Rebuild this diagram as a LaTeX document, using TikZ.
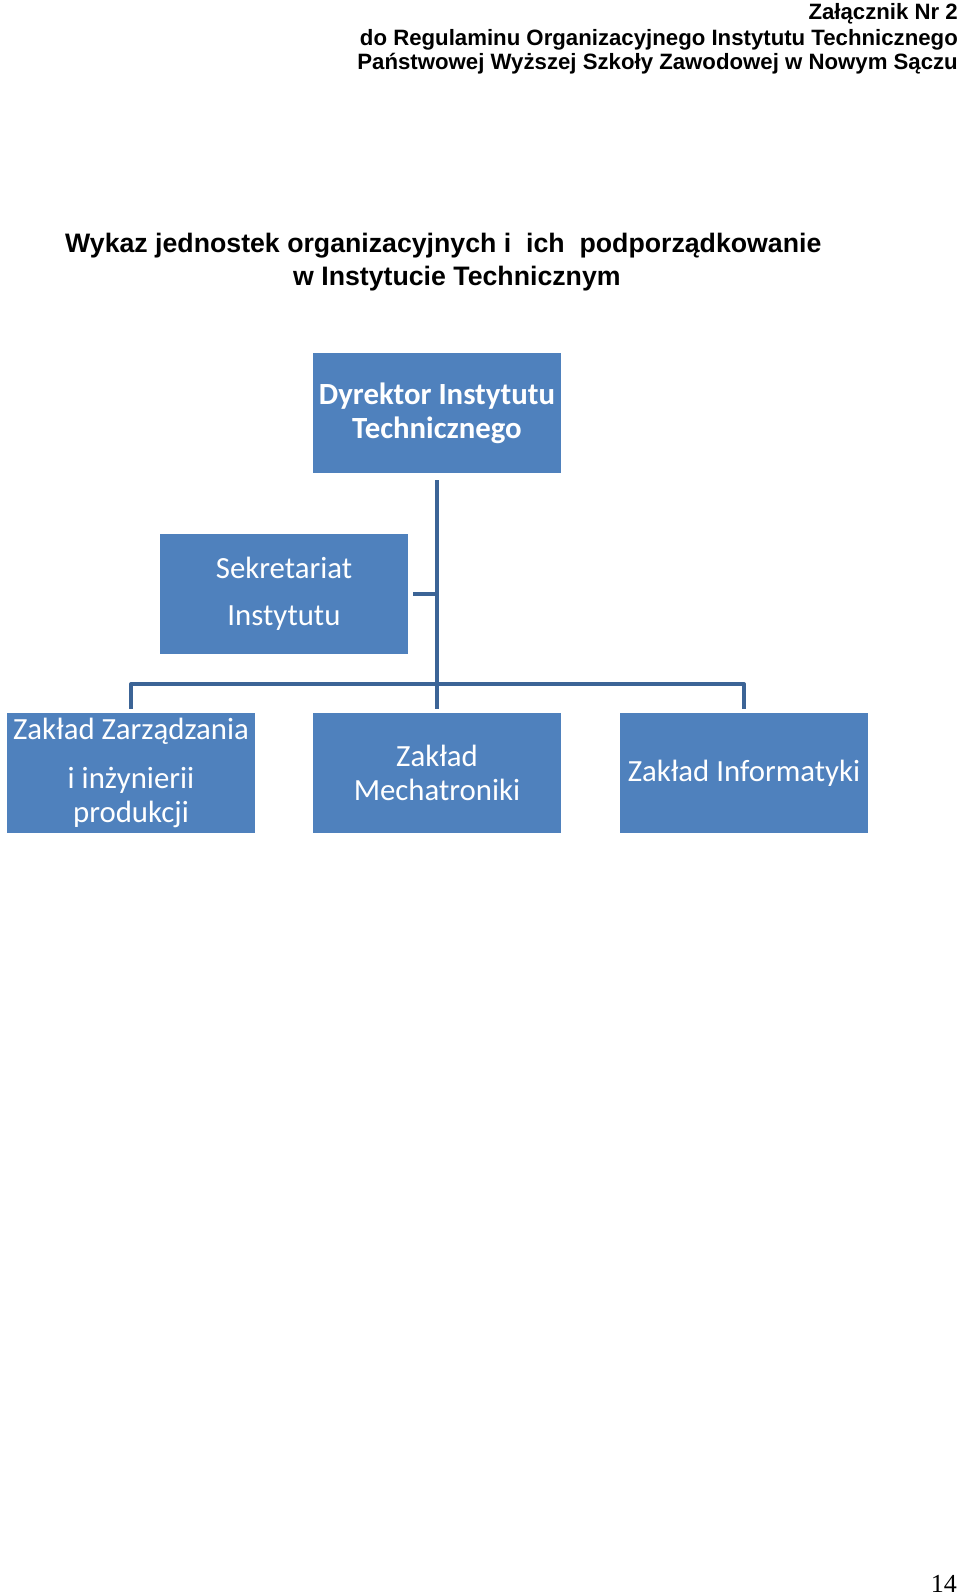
\documentclass[tikz,border=0pt]{standalone}
\usepackage{fontspec}
\setmainfont{Liberation Sans}
\newfontfamily\calfont{Carlito}
\newfontfamily\serfont{Liberation Serif}
\definecolor{boxblue}{RGB}{79,129,189}
\definecolor{connblue}{RGB}{60,100,150}
\begin{document}
\begin{tikzpicture}[x=1pt,y=-1pt,
  box/.style={rectangle, fill=boxblue, minimum width=248pt, minimum height=120pt, inner sep=0pt, text=white, align=center, font=\calfont\fontsize{30.8}{34}\selectfont},
  conn/.style={draw=connblue, line width=4pt, line join=round},
  hdr/.style={anchor=base east, inner sep=0pt, font=\bfseries\fontsize{22.2}{24}\selectfont},
  ttl/.style={anchor=base west, inner sep=0pt, font=\bfseries\fontsize{26.7}{30}\selectfont}]
\useasboundingbox (0,0) rectangle (960,1595);
\fill[white] (0,0) rectangle (960,1595);
% header
\node[hdr] (h1) at (958,20) {Załącznik Nr 2};
\node[hdr] (h2) at (958,46) {do Regulaminu Organizacyjnego Instytutu Technicznego};
\node[hdr] (h3) at (958,70) {Państwowej Wyższej Szkoły Zawodowej w Nowym Sączu};
% title
\node[ttl] (t1) at (65,252) {Wykaz jednostek organizacyjnych i~~ich~~podporządkowanie};
\node[ttl] (t2) at (293,285) {w Instytucie Technicznym};
% boxes
\node[box, font=\calfont\bfseries\fontsize{30.8}{34}\selectfont] (dir) at (437,413) {Dyrektor Instytutu\\Technicznego};
\node[box] (sek) at (284,594) {Sekretariat\\[13pt]Instytutu};
\node[box] (zz) at (131,773) {\rule{0pt}{4pt}Zakład Zarządzania\\[15pt]i inżynierii\\produkcji};
\node[box] (mech) at (437,773) {Zakład\\Mechatroniki};
\node[box] (inf) at (744,773) {Zakład Informatyki};
% connectors
\coordinate (bar) at (437,684);
\draw[conn] ([yshift=-7pt]dir.south) -- ([yshift=4pt]mech.north);
\draw[conn] ([xshift=5pt]sek.east) -- (sek.east -| dir.south);
\draw[conn] ([yshift=4pt]zz.north) -- (zz.north |- bar) -- (inf.north |- bar) -- ([yshift=4pt]inf.north);
% page number
\node[anchor=base east, inner sep=0pt, font=\serfont\fontsize{26}{30}\selectfont] (pg) at (957,1592) {14};
\end{tikzpicture}
\end{document}
